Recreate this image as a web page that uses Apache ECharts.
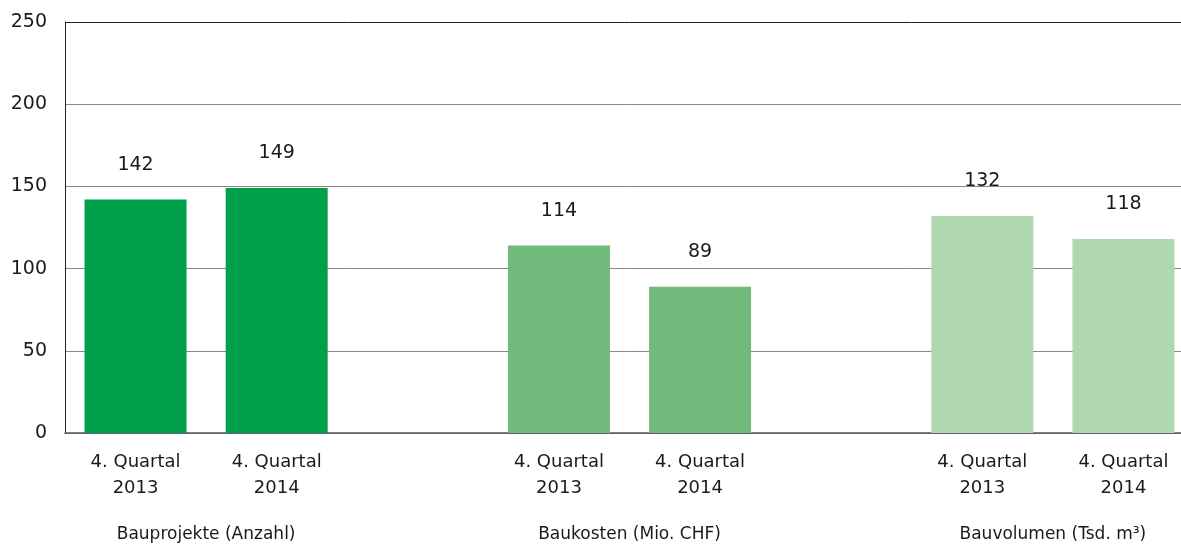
<!DOCTYPE html>
<html>
<head>
<meta charset="utf-8">
<script src="https://cdn.jsdelivr.net/npm/echarts@6/dist/echarts.min.js"></script>
<style>
  html, body { margin: 0; padding: 0; background: #fff; overflow: hidden; }
  #chart { width: 1197px; height: 544px; }
</style>
</head>
<body>
<div id="chart"></div>
<script>
// data
var periods = ['4. Quartal\n2013', '4. Quartal\n2014'];
var groups = ['Bauprojekte (Anzahl)', 'Baukosten (Mio. CHF)', 'Bauvolumen (Tsd. m\u00b3)'];
var bauprojekte = [142, 149];
var baukosten = [114, 89];
var bauvolumen = [132, 118];
var yTicks = [0, 50, 100, 150, 200, 250];
var colors = ['#00a04b', '#70bb7c', '#afd8ae'];

var font = 'DejaVu Sans';
var values = [bauprojekte, baukosten, bauvolumen];

// 8 slots: two bars per group, one empty slot between groups
var categories = [];
var groupLabels = [''];
var seriesData = [];
groups.forEach(function (g, gi) {
    if (gi > 0) { categories.push(''); groupLabels.push('', ''); }
    categories.push(periods[0], periods[1]);
    groupLabels.push(g);
});
groupLabels.push('');
groups.forEach(function (g, gi) {
    var d = [];
    for (var i = 0; i < categories.length; i++) d.push(null);
    d[gi * 3] = values[gi][0];
    d[gi * 3 + 1] = values[gi][1];
    seriesData.push(d);
});

var chart = echarts.init(document.getElementById('chart'));
chart.setOption({
    animation: false,
    grid: { left: 65, right: 0, top: 22, bottom: 111 },
    xAxis: [{
        type: 'category',
        data: categories,
        axisLine: { lineStyle: { color: '#555', width: 1.5 } },
        axisTick: { show: false },
        axisLabel: { interval: 0, margin: 16, fontFamily: font, fontSize: 18, color: '#1a1a1a', lineHeight: 26 }
    }, {
        type: 'category',
        data: groupLabels,
        boundaryGap: false,
        position: 'bottom',
        axisLine: { show: false },
        axisTick: { show: false },
        axisLabel: { interval: 0, margin: 93, fontFamily: font, fontSize: 17, color: '#1a1a1a' }
    }],
    yAxis: {
        type: 'value',
        min: yTicks[0],
        max: yTicks[yTicks.length - 1],
        interval: 50,
        axisLine: { show: true, lineStyle: { color: '#222' } },
        axisTick: { show: false },
        axisLabel: { margin: 18, fontFamily: font, fontSize: 19, color: '#1a1a1a', padding: [3, 0, 0, 0] },
        splitLine: { lineStyle: { color: ['#888', '#888', '#888', '#888', '#888', '#222'], width: 1 } }
    },
    series: seriesData.map(function (d, i) {
        return {
            type: 'bar',
            name: groups[i],
            stack: 'all',
            data: d,
            barWidth: 102,
            itemStyle: { color: colors[i] },
            label: { show: true, position: 'top', distance: 25, fontFamily: font, fontSize: 19, color: '#1a1a1a' }
        };
    })
});
</script>
</body>
</html>
